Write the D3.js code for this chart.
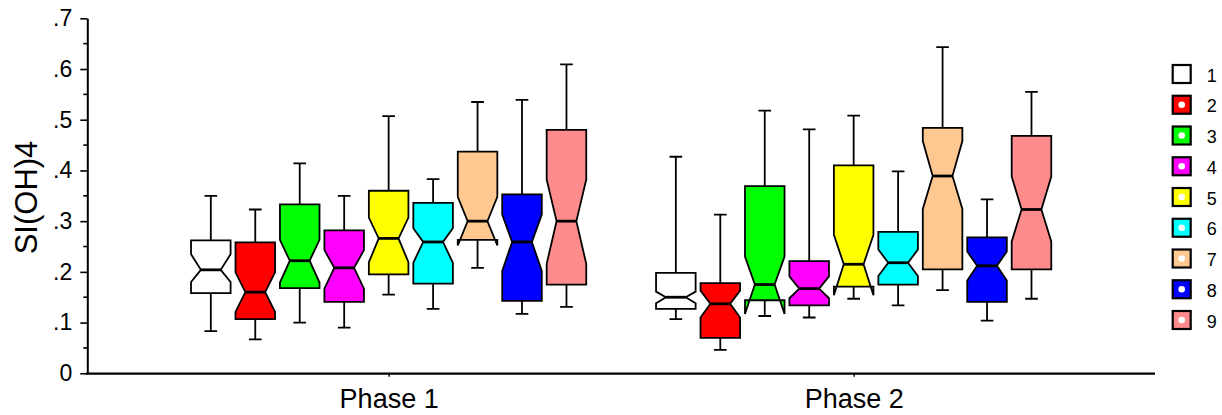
<!DOCTYPE html>
<html>
<head>
<meta charset="utf-8">
<script src="https://cdn.jsdelivr.net/npm/d3@7"></script>
<style>
    body { margin: 0; background: #fff; }
    text { font-family: "Liberation Sans", Arial, sans-serif; fill: #000; }
</style>
</head>
<body>
<div id="chart"></div>
<script>
// categories
const phases = ["Phase 1", "Phase 2"];
const groups = ["1", "2", "3", "4", "5", "6", "7", "8", "9"];
const groupColors = ["#ffffff", "#ff0000", "#00ff00", "#ff00ff", "#ffff00",
                     "#00ffff", "#ffc891", "#0000ff", "#ff8c8c"];
const yTicks = [0, 0.1, 0.2, 0.3, 0.4, 0.5, 0.6, 0.7];

// box statistics, one row per phase, one value per group
const whiskerLow = [[0.083, 0.067, 0.100, 0.090, 0.155, 0.127, 0.208, 0.117, 0.131],
                    [0.107, 0.046, 0.113, 0.110, 0.147, 0.134, 0.164, 0.104, 0.147]];
const q1         = [[0.158, 0.107, 0.168, 0.141, 0.195, 0.177, 0.263, 0.143, 0.175],
                    [0.127, 0.070, 0.144, 0.134, 0.171, 0.175, 0.205, 0.141, 0.205]];
const notchLow   = [[0.180, 0.121, 0.179, 0.167, 0.219, 0.218, 0.252, 0.202, 0.216],
                    [0.138, 0.110, 0.117, 0.148, 0.154, 0.192, 0.324, 0.183, 0.260]];
const median     = [[0.204, 0.160, 0.222, 0.208, 0.266, 0.259, 0.300, 0.259, 0.300],
                    [0.150, 0.137, 0.175, 0.167, 0.215, 0.218, 0.389, 0.212, 0.323]];
const notchHigh  = [[0.235, 0.199, 0.263, 0.243, 0.307, 0.286, 0.348, 0.313, 0.382],
                    [0.161, 0.163, 0.230, 0.191, 0.273, 0.244, 0.458, 0.240, 0.388]];
const q3         = [[0.262, 0.258, 0.333, 0.282, 0.360, 0.336, 0.437, 0.353, 0.480],
                    [0.198, 0.178, 0.369, 0.221, 0.410, 0.279, 0.484, 0.268, 0.468]];
const whiskerHigh= [[0.350, 0.323, 0.414, 0.350, 0.507, 0.383, 0.535, 0.539, 0.609],
                    [0.427, 0.313, 0.518, 0.481, 0.508, 0.398, 0.643, 0.343, 0.555]];


class BoxVis {

    constructor(parentElement) {
        this.parentElement = parentElement;
        this.initVis();
    }

    initVis() {
        let vis = this;

        vis.width = 1222;
        vis.height = 415;
        vis.left = 87.3;
        vis.right = 1155;
        vis.top = 18.3;
        vis.bottom = 373.3;

        vis.svg = d3.select("#" + vis.parentElement).append("svg")
            .attr("width", vis.width)
            .attr("height", vis.height);

        // scales
        vis.y = d3.scaleLinear().domain([0, 0.7]).range([vis.bottom, vis.top]);
        vis.x = d3.scalePoint().domain(phases).range([vis.left, vis.right]).padding(0.648);
        vis.inner = d3.scaleBand().domain(groups).range([-202.5, 202.5]).padding(0.11);

        // flatten stats into rows
        vis.displayData = [];
        phases.forEach((p, pi) => {
            groups.forEach((g, gi) => {
                vis.displayData.push({
                    phase: p, group: g, color: groupColors[gi],
                    wLo: whiskerLow[pi][gi], q1: q1[pi][gi], nLo: notchLow[pi][gi],
                    med: median[pi][gi], nHi: notchHigh[pi][gi], q3: q3[pi][gi],
                    wHi: whiskerHigh[pi][gi]
                });
            });
        });

        vis.updateVis();
    }

    updateVis() {
        let vis = this;
        let bw = vis.inner.bandwidth();
        let cap = bw * 0.32;

        let boxes = vis.svg.append("g").attr("class", "boxes")
            .selectAll("g")
            .data(vis.displayData)
            .join("g")
            .attr("transform", d => `translate(${vis.x(d.phase) + vis.inner(d.group) + bw / 2},0)`);

        // whiskers
        boxes.append("path")
            .attr("fill", "none")
            .attr("stroke", "#000")
            .attr("stroke-width", 1.8)
            .attr("d", d => `M0,${vis.y(d.q3)}V${vis.y(d.wHi)}M${-cap / 2},${vis.y(d.wHi)}H${cap / 2}` +
                `M0,${vis.y(d.q1)}V${vis.y(d.wLo)}M${-cap / 2},${vis.y(d.wLo)}H${cap / 2}`);

        // notched box
        boxes.append("path")
            .attr("fill", d => d.color)
            .attr("stroke", "#000")
            .attr("stroke-width", 1.8)
            .attr("stroke-linejoin", "miter")
            .attr("d", d => {
                let h = bw / 2, w = bw / 4;
                let pts = [
                    [-h, d.q3], [h, d.q3], [h, d.nHi], [w, d.med], [h, d.nLo], [h, d.q1],
                    [-h, d.q1], [-h, d.nLo], [-w, d.med], [-h, d.nHi]
                ];
                return "M" + pts.map(p => `${p[0]},${vis.y(p[1])}`).join("L") + "Z";
            });

        // median line
        boxes.append("line")
            .attr("x1", -bw / 4).attr("x2", bw / 4)
            .attr("y1", d => vis.y(d.med)).attr("y2", d => vis.y(d.med))
            .attr("stroke", "#000")
            .attr("stroke-width", 2.8);

        // y axis
        let yAxis = d3.axisLeft(vis.y)
            .tickValues(yTicks)
            .tickSize(7)
            .tickSizeOuter(0)
            .tickPadding(8)
            .tickFormat(d => d === 0 ? "0" : d3.format(".1f")(d).replace(/^0/, ""));

        let yg = vis.svg.append("g")
            .attr("transform", `translate(${vis.left},0)`)
            .call(yAxis);
        yg.select(".domain").attr("stroke-width", 2);
        yg.selectAll(".tick line").attr("stroke-width", 1.6);
        yg.selectAll(".tick text")
            .style("font-size", "23px")
            .style("font-family", "'Liberation Sans', Arial, sans-serif");

        let minor = d3.range(0.05, 0.7, 0.1);
        yg.selectAll(".minor")
            .data(minor)
            .join("line")
            .attr("class", "minor")
            .attr("x1", -4).attr("x2", 0)
            .attr("y1", d => vis.y(d)).attr("y2", d => vis.y(d))
            .attr("stroke", "#000")
            .attr("stroke-width", 1.6);

        // x axis
        let xAxis = d3.axisBottom(vis.x)
            .tickSize(3)
            .tickSizeOuter(0)
            .tickPadding(12);

        let xg = vis.svg.append("g")
            .attr("transform", `translate(0,${vis.bottom + 0.4})`)
            .call(xAxis);
        xg.select(".domain")
            .attr("stroke-width", 2.2)
            .attr("d", `M${vis.left - 1},0H${vis.right}`);
        xg.selectAll(".tick line").attr("stroke-width", 1.4);
        xg.selectAll(".tick text")
            .style("font-size", "27px")
            .style("font-family", "'Liberation Sans', Arial, sans-serif");

        // y label
        vis.svg.append("text")
            .attr("transform", `translate(37,197.5) rotate(-90)`)
            .attr("text-anchor", "middle")
            .style("font-size", "31px")
            .text("SI(OH)4");

        // legend
        let legend = vis.svg.append("g").attr("class", "legend")
            .selectAll("g")
            .data(groups)
            .join("g")
            .attr("transform", (d, i) => `translate(1172.7,${65 + i * 30.75})`);

        legend.append("rect")
            .attr("width", 18).attr("height", 18)
            .attr("fill", (d, i) => groupColors[i])
            .attr("stroke", "#000")
            .attr("stroke-width", 2.2);

        legend.filter((d, i) => i > 0).append("circle")
            .attr("cx", 9).attr("cy", 9).attr("r", 3.3)
            .attr("fill", "#fff");

        legend.append("text")
            .attr("x", 34)
            .attr("y", 16.5)
            .style("font-size", "18px")
            .text(d => d);
    }
}

new BoxVis("chart");
</script>
</body>
</html>
